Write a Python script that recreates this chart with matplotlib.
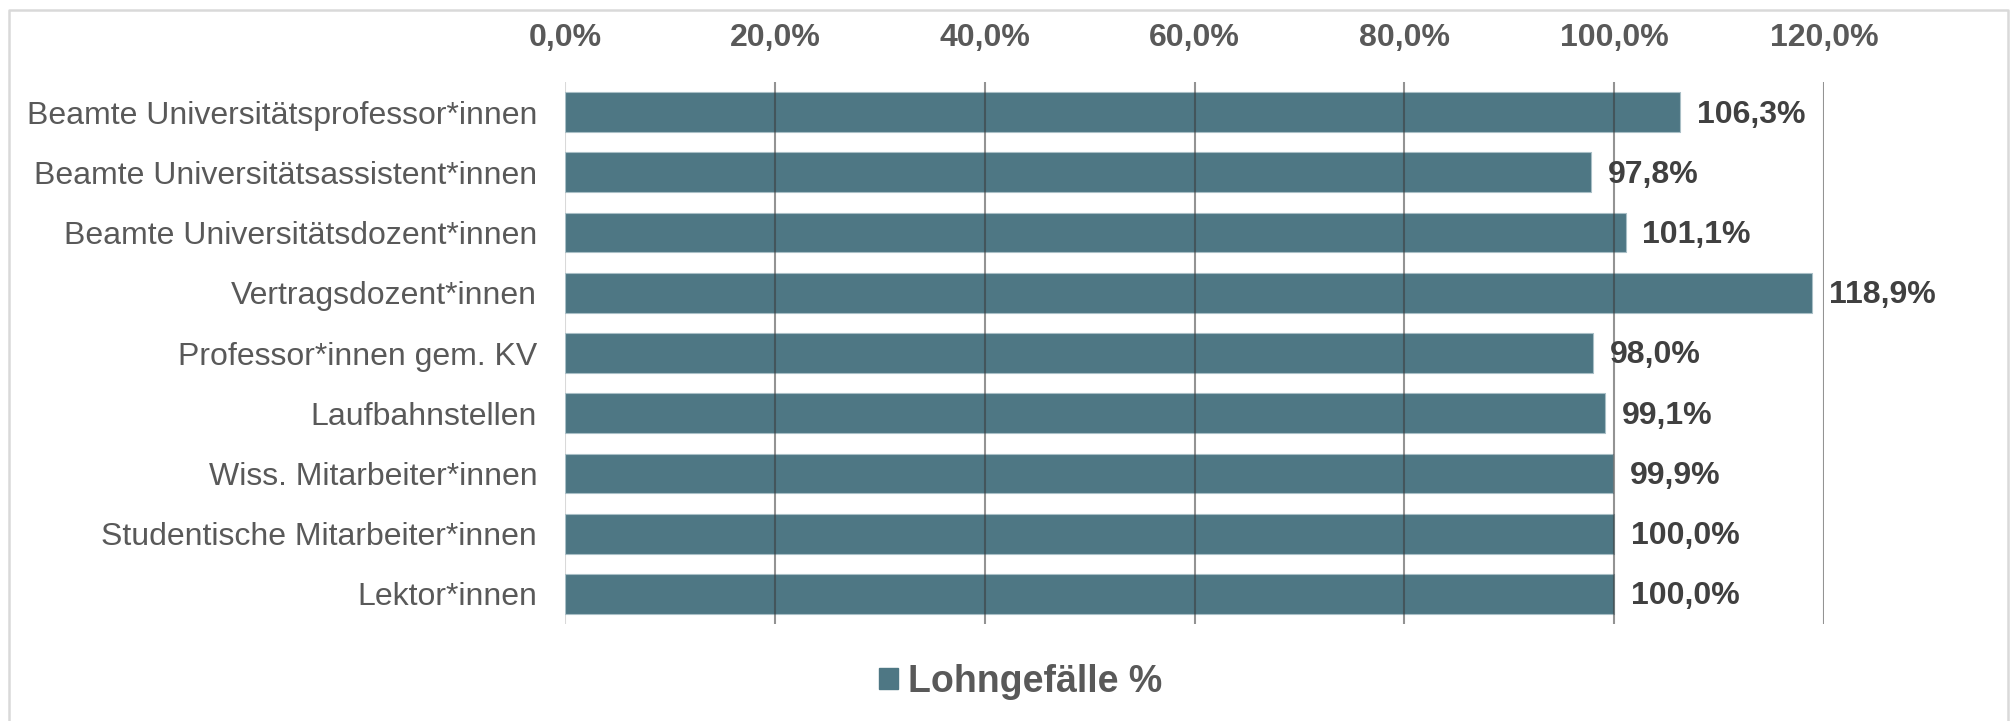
import matplotlib
matplotlib.use("Agg")
import matplotlib.pyplot as plt
from matplotlib.patches import Rectangle
from matplotlib.lines import Line2D
from matplotlib.ticker import FuncFormatter

categories = [
    "Beamte Universitätsprofessor*innen",
    "Beamte Universitätsassistent*innen",
    "Beamte Universitätsdozent*innen",
    "Vertragsdozent*innen",
    "Professor*innen gem. KV",
    "Laufbahnstellen",
    "Wiss. Mitarbeiter*innen",
    "Studentische Mitarbeiter*innen",
    "Lektor*innen",
]
values = [106.3, 97.8, 101.1, 118.9, 98.0, 99.1, 99.9, 100.0, 100.0]
xticks = [0, 20, 40, 60, 80, 100, 120]
series_name = "Lohngefälle %"

plt.rcParams['font.family'] = ['Liberation Sans', 'DejaVu Sans']

W, H = 2013, 721
fig = plt.figure(figsize=(W / 100, H / 100), dpi=100)

# outer border (left, top, right; no bottom edge visible)
bx0, bx1, by = 9 / W, 2008 / W, (H - 10) / H
fig.lines.append(Line2D([bx0, bx0, bx1, bx1], [0, by, by, 0], transform=fig.transFigure,
                        color="#d9d9d9", linewidth=1.8))

ax = fig.add_axes([565 / W, (H - 624) / H, 1259 / W, 542 / H])

bar_color = "#4e7784"
y = list(range(len(categories)))
ax.barh(y, values, height=0.66, color=bar_color, edgecolor="#a9bfc6",
        linewidth=0.8, zorder=2)

ax.set_xlim(0, 120)
ax.set_ylim(len(categories) - 0.5, -0.5)
ax.set_yticks(y)
ax.set_yticklabels(categories, fontsize=23, color="#595959")
ax.xaxis.tick_top()
ax.set_xticks(xticks)
ax.xaxis.set_major_formatter(FuncFormatter(lambda v, p: f"{v:.1f}%".replace(".", ",")))
for lbl in ax.get_xticklabels():
    lbl.set_fontweight("bold")
ax.tick_params(axis="x", length=0, pad=21, labelsize=23, labelcolor="#595959")
ax.tick_params(axis="y", length=0, pad=20)

for s in ax.spines.values():
    s.set_visible(False)

# gridlines (drawn above bars, as in the reference)
for t in xticks[1:]:
    ax.axvline(t, color="#3a3a3a", alpha=0.55, linewidth=1.5, zorder=3)
ax.axvline(0, color="#d9d9d9", linewidth=1.5, zorder=1)

for yi, v in zip(y, values):
    ax.text(v + 1.6, yi + 0.04, f"{v:.1f}%".replace(".", ","), va="center", ha="left",
            fontsize=23, fontweight="bold", color="#404040", zorder=4)

handle = Rectangle((0, 0), 1, 1, color=bar_color)
leg = fig.legend([handle], [series_name], loc="center", bbox_to_anchor=(0.507, 0.054),
                 frameon=False, handlelength=0.5, handleheight=0.5, handletextpad=0.25,
                 prop={"size": 27, "weight": "bold"})
for t in leg.get_texts():
    t.set_color("#595959")

fig.savefig("out.png", dpi=100)
